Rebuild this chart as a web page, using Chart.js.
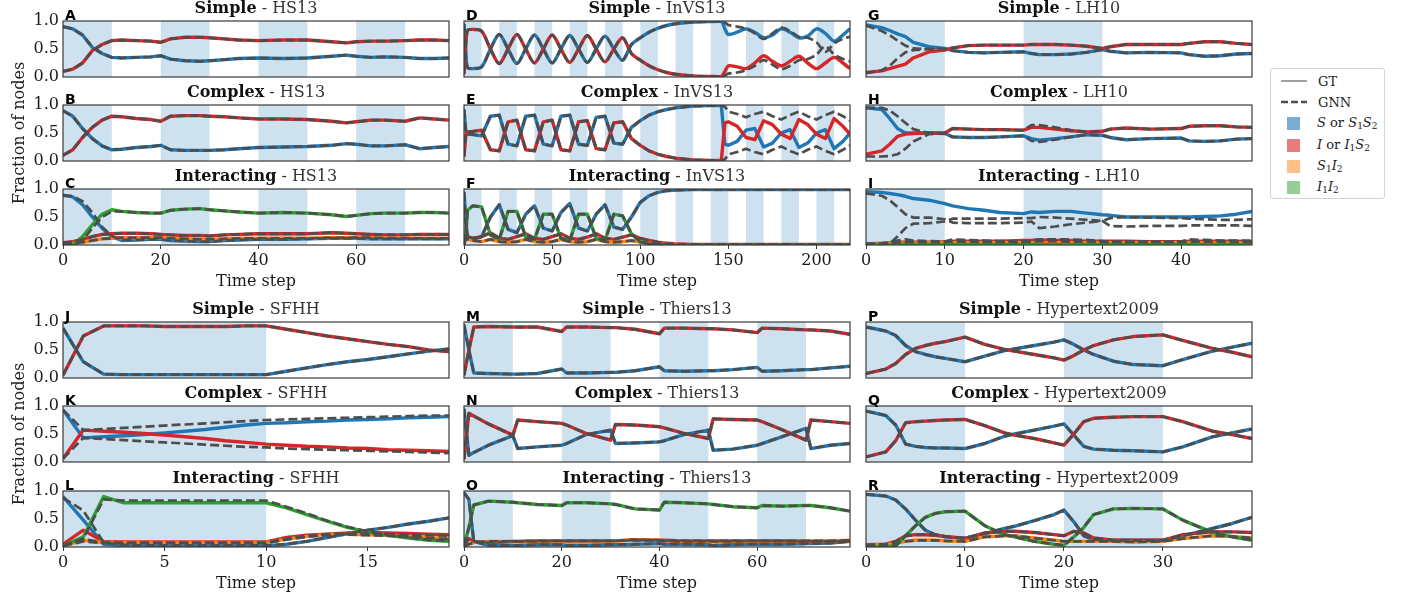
<!DOCTYPE html>
<html>
<head>
<meta charset="utf-8">
<script src="https://cdn.jsdelivr.net/npm/chart.js@4"></script>
<style>
body { margin:0; background:#fff; width:1410px; height:601px; position:relative; overflow:hidden; font-family:"DejaVu Serif", serif; }
canvas.panel { position:absolute; }
#legend { position:absolute; left:1270px; top:68px; width:115px; height:131px; border:1px solid #d4d4d4; border-radius:3px; box-sizing:border-box; background:#fff; font-size:13px; color:#222; }
#legend .item { position:absolute; left:10px; height:20px; display:flex; align-items:center; }
#legend svg { margin-right:11px; }
#legend .patch { display:inline-block; width:13px; height:13px; margin:0 17px 0 6px; }
#legend sub { font-size:9px; vertical-align:-2px; }
</style>
</head>
<body>
<div id="legend">
  <div class="item" style="top:2px"><svg width="26" height="10"><line x1="0" y1="5" x2="26" y2="5" stroke="#a0a0a0" stroke-width="2"/></svg><span>GT</span></div>
  <div class="item" style="top:23px"><svg width="26" height="10"><line x1="0" y1="5" x2="26" y2="5" stroke="#4d4d4d" stroke-width="2.5" stroke-dasharray="7,3"/></svg><span>GNN</span></div>
  <div class="item" style="top:44px"><span class="patch" style="background:rgba(31,119,180,0.6)"></span><span><i>S</i> or <i>S</i><sub>1</sub><i>S</i><sub>2</sub></span></div>
  <div class="item" style="top:66px"><span class="patch" style="background:rgba(214,39,40,0.6)"></span><span><i>I</i> or <i>I</i><sub>1</sub><i>S</i><sub>2</sub></span></div>
  <div class="item" style="top:87px"><span class="patch" style="background:rgba(255,127,14,0.5)"></span><span><i>S</i><sub>1</sub><i>I</i><sub>2</sub></span></div>
  <div class="item" style="top:108px"><span class="patch" style="background:rgba(44,160,44,0.5)"></span><span><i>I</i><sub>1</sub><i>I</i><sub>2</sub></span></div>
</div>
<script>
// ---------- HS13 ----------
const hs13Time = [0,2,4,6,8,10,12,15,18,20,22,25,28,30,33,36,40,45,50,55,58,60,63,66,70,73,76,79];
const hs13Ticks = [0,20,40,60];
const hs13Bands = [[0,10],[20,30],[40,50],[60,70]];
const hs13SimpleS = [0.90,0.86,0.75,0.53,0.42,0.35,0.34,0.35,0.36,0.38,0.32,0.29,0.28,0.29,0.31,0.33,0.34,0.33,0.34,0.37,0.39,0.37,0.35,0.36,0.35,0.33,0.33,0.34];
const hs13SimpleI = [0.10,0.14,0.25,0.47,0.58,0.65,0.66,0.65,0.64,0.62,0.68,0.71,0.71,0.70,0.68,0.66,0.65,0.66,0.66,0.63,0.61,0.63,0.64,0.64,0.65,0.66,0.66,0.65];
const hs13ComplexS = [0.90,0.80,0.58,0.40,0.27,0.20,0.21,0.24,0.26,0.28,0.20,0.19,0.19,0.19,0.20,0.22,0.24,0.25,0.26,0.28,0.31,0.30,0.27,0.27,0.29,0.22,0.24,0.26];
const hs13ComplexI = [0.10,0.20,0.42,0.60,0.73,0.80,0.79,0.76,0.74,0.71,0.80,0.81,0.81,0.80,0.79,0.77,0.75,0.75,0.74,0.71,0.68,0.70,0.73,0.73,0.71,0.77,0.75,0.73];
const hs13IntSS = [0.89,0.86,0.72,0.50,0.30,0.15,0.08,0.09,0.10,0.10,0.08,0.07,0.06,0.06,0.08,0.09,0.10,0.10,0.11,0.12,0.12,0.12,0.11,0.11,0.11,0.11,0.11,0.11];
const hs13IntIS = [0.04,0.06,0.10,0.15,0.19,0.20,0.21,0.21,0.20,0.19,0.18,0.17,0.17,0.16,0.18,0.19,0.20,0.20,0.20,0.22,0.21,0.20,0.19,0.18,0.18,0.19,0.19,0.19];
const hs13IntSI = [0.02,0.03,0.05,0.08,0.11,0.12,0.13,0.13,0.13,0.13,0.12,0.11,0.10,0.10,0.11,0.12,0.12,0.12,0.12,0.13,0.13,0.13,0.13,0.12,0.12,0.12,0.12,0.12];
const hs13IntII = [0.00,0.00,0.15,0.36,0.55,0.63,0.60,0.58,0.57,0.57,0.62,0.64,0.65,0.63,0.61,0.59,0.57,0.58,0.57,0.54,0.51,0.53,0.56,0.57,0.57,0.58,0.58,0.57];
const hs13IntGnnSS = [0.89,0.87,0.78,0.58,0.32,0.16,0.09,0.09,0.10,0.10,0.08,0.07,0.06,0.06,0.08,0.09,0.10,0.10,0.11,0.12,0.12,0.12,0.11,0.11,0.11,0.11,0.11,0.11];
const hs13IntGnnII = [0.00,0.00,0.08,0.30,0.50,0.60,0.60,0.58,0.57,0.57,0.62,0.64,0.65,0.63,0.61,0.59,0.57,0.58,0.57,0.54,0.51,0.53,0.56,0.57,0.57,0.58,0.58,0.57];

// ---------- InVS13 ----------
const invsTime = [0,1,2,5,10,15,20,25,30,35,40,45,50,55,60,65,70,75,80,85,90,95,100,105,110,115,120,130,140,146,148,150,155,160,165,170,175,180,185,190,195,200,205,210,215,219];
const invsTicks = [0,50,100,150,200];
const invsBands = [[0,10],[20,30],[40,50],[60,70],[80,90],[100,110],[120,130],[140,150],[160,170],[180,190],[200,210]];
const invsSimpleS = [0.95,0.45,0.17,0.15,0.18,0.50,0.76,0.50,0.24,0.50,0.75,0.50,0.25,0.50,0.74,0.50,0.26,0.50,0.73,0.50,0.30,0.58,0.70,0.80,0.87,0.92,0.95,0.98,0.99,0.99,0.86,0.76,0.80,0.86,0.80,0.70,0.75,0.86,0.80,0.70,0.73,0.86,0.78,0.64,0.75,0.86];
const invsSimpleI = [0.05,0.55,0.83,0.85,0.82,0.50,0.24,0.50,0.76,0.50,0.25,0.50,0.75,0.50,0.26,0.50,0.74,0.50,0.27,0.50,0.70,0.42,0.30,0.20,0.13,0.08,0.05,0.02,0.01,0.01,0.10,0.20,0.18,0.15,0.25,0.38,0.28,0.20,0.28,0.37,0.25,0.15,0.25,0.35,0.25,0.15];
const invsSimpleGnnS = [0.95,0.45,0.17,0.15,0.18,0.50,0.76,0.50,0.24,0.50,0.75,0.50,0.25,0.50,0.74,0.50,0.26,0.50,0.73,0.50,0.30,0.58,0.70,0.80,0.87,0.92,0.95,0.98,0.99,0.99,0.97,0.93,0.90,0.86,0.78,0.68,0.78,0.88,0.82,0.72,0.70,0.62,0.45,0.60,0.68,0.72];
const invsSimpleGnnI = [0.05,0.55,0.83,0.85,0.82,0.50,0.24,0.50,0.76,0.50,0.25,0.50,0.75,0.50,0.26,0.50,0.74,0.50,0.27,0.50,0.70,0.42,0.30,0.20,0.13,0.08,0.05,0.02,0.01,0.01,0.03,0.06,0.08,0.12,0.20,0.30,0.22,0.14,0.20,0.30,0.32,0.40,0.55,0.40,0.32,0.28];
const invsComplexS = [0.92,0.55,0.48,0.47,0.45,0.80,0.82,0.30,0.27,0.80,0.82,0.30,0.27,0.80,0.82,0.30,0.28,0.78,0.80,0.32,0.30,0.60,0.72,0.82,0.88,0.92,0.95,0.98,0.99,0.99,0.30,0.28,0.35,0.55,0.58,0.25,0.32,0.50,0.56,0.24,0.32,0.50,0.56,0.22,0.35,0.50];
const invsComplexI = [0.08,0.45,0.52,0.53,0.55,0.20,0.18,0.70,0.73,0.20,0.18,0.70,0.73,0.20,0.18,0.70,0.72,0.22,0.20,0.68,0.70,0.40,0.28,0.18,0.12,0.08,0.05,0.02,0.01,0.01,0.68,0.70,0.62,0.42,0.38,0.72,0.65,0.48,0.40,0.74,0.65,0.48,0.40,0.76,0.62,0.48];
const invsComplexGnnS = [0.92,0.55,0.48,0.47,0.45,0.80,0.82,0.30,0.27,0.80,0.82,0.30,0.27,0.80,0.82,0.30,0.28,0.78,0.80,0.32,0.30,0.60,0.72,0.82,0.88,0.92,0.95,0.98,0.99,0.99,0.97,0.88,0.84,0.78,0.84,0.88,0.80,0.74,0.82,0.88,0.80,0.74,0.82,0.88,0.80,0.72];
const invsComplexGnnI = [0.08,0.45,0.52,0.53,0.55,0.20,0.18,0.70,0.73,0.20,0.18,0.70,0.73,0.20,0.18,0.70,0.72,0.22,0.20,0.68,0.70,0.40,0.28,0.18,0.12,0.08,0.05,0.02,0.01,0.01,0.03,0.12,0.16,0.22,0.16,0.12,0.20,0.26,0.18,0.12,0.20,0.26,0.18,0.12,0.20,0.28];
const invsIntSS = [0.95,0.45,0.12,0.10,0.15,0.50,0.72,0.28,0.22,0.55,0.70,0.30,0.25,0.58,0.74,0.30,0.25,0.55,0.72,0.32,0.28,0.50,0.76,0.88,0.94,0.97,0.98,0.99,0.99,0.99,0.99,0.99,0.99,0.99,0.99,0.99,0.99,0.99,0.99,0.99,0.99,0.99,0.99,0.99,0.99,0.99];
const invsIntIS = [0.03,0.20,0.15,0.12,0.15,0.22,0.12,0.10,0.15,0.20,0.12,0.10,0.15,0.20,0.12,0.10,0.14,0.20,0.12,0.10,0.14,0.18,0.12,0.08,0.05,0.03,0.02,0.01,0.01,0.01,0.01,0.01,0.01,0.01,0.01,0.01,0.01,0.01,0.01,0.01,0.01,0.01,0.01,0.01,0.01,0.01];
const invsIntSI = [0.02,0.12,0.10,0.08,0.06,0.10,0.06,0.05,0.06,0.10,0.06,0.05,0.06,0.10,0.06,0.05,0.06,0.10,0.06,0.05,0.06,0.08,0.05,0.03,0.02,0.01,0.01,0.00,0.00,0.00,0.00,0.00,0.00,0.00,0.00,0.00,0.00,0.00,0.00,0.00,0.00,0.00,0.00,0.00,0.00,0.00];
const invsIntII = [0.00,0.15,0.62,0.70,0.68,0.18,0.10,0.60,0.60,0.15,0.10,0.55,0.55,0.12,0.08,0.55,0.55,0.12,0.08,0.55,0.52,0.20,0.06,0.02,0.01,0.00,0.00,0.00,0.00,0.00,0.00,0.00,0.00,0.00,0.00,0.00,0.00,0.00,0.00,0.00,0.00,0.00,0.00,0.00,0.00,0.00];

// ---------- LH10 ----------
const lh10Time = [0,2,3,4,5,6,8,10,11,13,15,17,20,21,22,24,26,28,30,31,33,36,40,41,43,45,47,49];
const lh10Ticks = [0,10,20,30,40];
const lh10Bands = [[0,10],[20,30]];
const lh10SimpleS = [0.93,0.88,0.83,0.77,0.72,0.62,0.54,0.51,0.47,0.44,0.43,0.44,0.45,0.42,0.40,0.40,0.41,0.44,0.49,0.46,0.43,0.44,0.43,0.40,0.37,0.38,0.41,0.42];
const lh10SimpleI = [0.08,0.11,0.15,0.19,0.23,0.34,0.45,0.48,0.52,0.56,0.57,0.57,0.57,0.58,0.58,0.58,0.57,0.55,0.51,0.54,0.58,0.58,0.58,0.60,0.63,0.63,0.60,0.58];
const lh10SimpleGnnS = [0.92,0.82,0.75,0.65,0.56,0.51,0.50,0.50,0.47,0.44,0.43,0.44,0.45,0.42,0.40,0.40,0.41,0.44,0.49,0.46,0.43,0.44,0.43,0.40,0.37,0.38,0.41,0.42];
const lh10SimpleGnnI = [0.07,0.12,0.20,0.33,0.44,0.48,0.50,0.50,0.52,0.56,0.57,0.57,0.57,0.58,0.58,0.58,0.57,0.55,0.51,0.54,0.58,0.58,0.58,0.60,0.63,0.63,0.60,0.58];
const lh10ComplexS = [0.95,0.92,0.76,0.58,0.50,0.50,0.50,0.49,0.43,0.42,0.42,0.43,0.45,0.40,0.37,0.40,0.43,0.47,0.46,0.42,0.38,0.40,0.41,0.36,0.35,0.36,0.39,0.40];
const lh10ComplexI = [0.12,0.18,0.30,0.44,0.48,0.49,0.50,0.50,0.58,0.57,0.56,0.56,0.55,0.60,0.60,0.57,0.54,0.52,0.53,0.57,0.59,0.57,0.58,0.62,0.63,0.63,0.61,0.60];
const lh10ComplexGnnS = [0.95,0.95,0.90,0.80,0.68,0.57,0.50,0.49,0.43,0.42,0.42,0.43,0.45,0.36,0.34,0.38,0.43,0.47,0.46,0.42,0.38,0.40,0.41,0.36,0.35,0.36,0.39,0.40];
const lh10ComplexGnnI = [0.08,0.08,0.09,0.12,0.22,0.35,0.48,0.50,0.58,0.57,0.56,0.56,0.55,0.64,0.64,0.60,0.55,0.52,0.53,0.57,0.59,0.57,0.58,0.62,0.63,0.63,0.61,0.60];
const lh10IntSS = [0.95,0.94,0.92,0.90,0.87,0.83,0.80,0.74,0.70,0.65,0.62,0.58,0.56,0.59,0.58,0.60,0.60,0.57,0.54,0.53,0.50,0.50,0.50,0.50,0.51,0.52,0.55,0.60];
const lh10IntIS = [0.02,0.03,0.04,0.05,0.05,0.05,0.05,0.06,0.07,0.07,0.07,0.07,0.08,0.08,0.09,0.08,0.08,0.07,0.07,0.07,0.07,0.06,0.06,0.07,0.07,0.07,0.07,0.06];
const lh10IntSI = [0.02,0.02,0.03,0.03,0.03,0.03,0.04,0.04,0.04,0.04,0.04,0.04,0.04,0.04,0.04,0.04,0.04,0.04,0.04,0.04,0.04,0.04,0.04,0.04,0.04,0.04,0.04,0.04];
const lh10IntII = [0.01,0.01,0.01,0.01,0.01,0.01,0.01,0.01,0.01,0.01,0.01,0.01,0.01,0.01,0.01,0.01,0.01,0.01,0.01,0.01,0.01,0.01,0.01,0.01,0.01,0.01,0.01,0.01];
const lh10IntGnnSS = [0.92,0.88,0.80,0.68,0.55,0.49,0.49,0.46,0.40,0.39,0.39,0.39,0.40,0.42,0.30,0.33,0.37,0.40,0.43,0.34,0.33,0.34,0.34,0.35,0.35,0.35,0.35,0.34];
const lh10IntGnnIS = [0.02,0.03,0.04,0.08,0.10,0.08,0.07,0.06,0.10,0.09,0.08,0.07,0.06,0.08,0.10,0.10,0.10,0.09,0.07,0.06,0.06,0.06,0.06,0.10,0.09,0.08,0.08,0.08];
const lh10IntGnnSI = [0.02,0.02,0.03,0.04,0.05,0.05,0.05,0.05,0.06,0.06,0.05,0.05,0.05,0.06,0.07,0.07,0.06,0.06,0.05,0.05,0.05,0.05,0.05,0.06,0.06,0.06,0.05,0.05];
const lh10IntGnnII = [0.00,0.00,0.02,0.15,0.30,0.38,0.39,0.42,0.47,0.47,0.47,0.47,0.48,0.48,0.50,0.49,0.47,0.45,0.43,0.48,0.50,0.49,0.48,0.47,0.46,0.45,0.45,0.46];

// ---------- SFHH ----------
const sfhhTime = [0,1,2,3,4,5,6,7,8,9,10,11,12,13,14,15,16,17,18,19];
const sfhhTicks = [0,5,10,15];
const sfhhBands = [[0,10]];
const sfhhSimpleS = [0.89,0.29,0.07,0.06,0.06,0.06,0.06,0.06,0.06,0.06,0.06,0.12,0.18,0.24,0.29,0.33,0.38,0.43,0.48,0.52];
const sfhhSimpleI = [0.05,0.75,0.93,0.93,0.93,0.92,0.92,0.92,0.92,0.93,0.93,0.87,0.81,0.75,0.70,0.65,0.60,0.56,0.50,0.47];
const sfhhComplexS = [0.93,0.43,0.45,0.47,0.49,0.52,0.55,0.58,0.62,0.66,0.69,0.70,0.72,0.73,0.75,0.76,0.77,0.79,0.80,0.81];
const sfhhComplexI = [0.06,0.57,0.55,0.53,0.51,0.48,0.45,0.42,0.38,0.35,0.32,0.30,0.28,0.27,0.25,0.24,0.22,0.21,0.20,0.19];
const sfhhComplexGnnS = [0.93,0.57,0.59,0.61,0.63,0.65,0.67,0.69,0.71,0.73,0.75,0.76,0.77,0.78,0.79,0.80,0.81,0.82,0.83,0.83];
const sfhhComplexGnnI = [0.06,0.43,0.41,0.39,0.37,0.35,0.33,0.31,0.29,0.27,0.26,0.24,0.23,0.22,0.21,0.20,0.19,0.18,0.17,0.16];
const sfhhIntSS = [0.90,0.48,0.05,0.02,0.02,0.02,0.02,0.02,0.02,0.02,0.02,0.05,0.10,0.17,0.24,0.30,0.35,0.41,0.46,0.52];
const sfhhIntIS = [0.05,0.30,0.10,0.09,0.09,0.09,0.09,0.09,0.09,0.09,0.09,0.17,0.21,0.23,0.25,0.26,0.25,0.24,0.23,0.22];
const sfhhIntSI = [0.02,0.12,0.08,0.08,0.08,0.08,0.08,0.08,0.08,0.08,0.08,0.14,0.19,0.22,0.23,0.22,0.21,0.19,0.17,0.15];
const sfhhIntII = [0.02,0.18,0.90,0.79,0.79,0.79,0.79,0.79,0.79,0.79,0.79,0.70,0.58,0.46,0.35,0.27,0.21,0.16,0.12,0.10];
const sfhhIntGnnSS = [0.88,0.65,0.08,0.04,0.03,0.03,0.03,0.03,0.03,0.03,0.03,0.05,0.10,0.17,0.24,0.30,0.35,0.41,0.46,0.52];
const sfhhIntGnnIS = [0.03,0.14,0.08,0.08,0.08,0.08,0.08,0.08,0.08,0.08,0.08,0.15,0.20,0.23,0.24,0.24,0.23,0.22,0.21,0.20];
const sfhhIntGnnSI = [0.02,0.10,0.07,0.07,0.07,0.07,0.07,0.07,0.07,0.07,0.07,0.13,0.18,0.21,0.22,0.21,0.20,0.18,0.16,0.14];
const sfhhIntGnnII = [0.02,0.15,0.85,0.83,0.83,0.83,0.83,0.83,0.83,0.83,0.83,0.72,0.60,0.47,0.36,0.28,0.22,0.17,0.13,0.11];

// ---------- Thiers13 ----------
const thiersTime = [0,1,2,5,10,11,15,20,21,25,30,31,35,40,41,45,50,51,55,60,61,65,70,71,75,79];
const thiersTicks = [0,20,40,60];
const thiersBands = [[0,10],[20,30],[40,50],[60,70]];
const thiersSimpleS = [0.95,0.50,0.09,0.08,0.07,0.07,0.08,0.16,0.09,0.09,0.10,0.10,0.13,0.20,0.13,0.12,0.13,0.13,0.15,0.19,0.12,0.13,0.15,0.15,0.18,0.21];
const thiersSimpleI = [0.05,0.50,0.91,0.92,0.91,0.91,0.91,0.83,0.91,0.91,0.90,0.90,0.87,0.79,0.89,0.89,0.88,0.88,0.86,0.81,0.89,0.88,0.86,0.86,0.84,0.78];
const thiersComplexS = [0.95,0.12,0.17,0.30,0.47,0.24,0.27,0.30,0.33,0.49,0.57,0.33,0.34,0.36,0.38,0.49,0.57,0.21,0.23,0.30,0.33,0.45,0.60,0.24,0.30,0.33];
const thiersComplexI = [0.05,0.87,0.82,0.68,0.48,0.75,0.72,0.69,0.66,0.51,0.39,0.67,0.66,0.63,0.61,0.51,0.42,0.77,0.76,0.75,0.72,0.58,0.39,0.75,0.72,0.69];
const thiersIntSS = [0.97,0.85,0.10,0.03,0.03,0.03,0.04,0.04,0.03,0.03,0.04,0.04,0.05,0.06,0.05,0.05,0.04,0.03,0.04,0.05,0.05,0.05,0.06,0.06,0.07,0.10];
const thiersIntIS = [0.02,0.15,0.10,0.08,0.10,0.10,0.11,0.11,0.11,0.11,0.11,0.11,0.13,0.12,0.12,0.11,0.11,0.11,0.11,0.11,0.11,0.11,0.10,0.10,0.10,0.10];
const thiersIntSI = [0.01,0.05,0.08,0.10,0.10,0.10,0.10,0.11,0.11,0.11,0.11,0.11,0.12,0.12,0.11,0.10,0.10,0.10,0.10,0.11,0.11,0.11,0.11,0.11,0.11,0.12];
const thiersIntII = [0.02,0.35,0.75,0.82,0.80,0.79,0.76,0.74,0.79,0.79,0.77,0.76,0.68,0.66,0.80,0.79,0.77,0.76,0.72,0.70,0.74,0.73,0.74,0.74,0.70,0.64];

// ---------- Hypertext2009 ----------
const htTime = [0,2,3,4,5,6,7,8,10,12,14,15,17,19,20,21,22,23,25,27,30,32,35,37,39];
const htTicks = [0,10,20,30];
const htBands = [[0,10],[20,30]];
const htSimpleS = [0.91,0.84,0.76,0.58,0.47,0.42,0.38,0.35,0.29,0.39,0.49,0.52,0.58,0.64,0.68,0.60,0.50,0.42,0.30,0.24,0.22,0.33,0.48,0.55,0.62];
const htSimpleI = [0.08,0.16,0.26,0.42,0.53,0.58,0.62,0.65,0.73,0.60,0.51,0.48,0.42,0.36,0.32,0.40,0.50,0.58,0.68,0.74,0.77,0.67,0.53,0.46,0.38];
const htComplexS = [0.91,0.83,0.66,0.32,0.28,0.26,0.25,0.25,0.24,0.33,0.46,0.50,0.57,0.64,0.68,0.48,0.28,0.23,0.21,0.20,0.18,0.27,0.45,0.52,0.59];
const htComplexI = [0.09,0.18,0.38,0.70,0.72,0.73,0.74,0.75,0.76,0.65,0.52,0.48,0.42,0.34,0.30,0.50,0.72,0.78,0.80,0.81,0.81,0.72,0.55,0.49,0.42];
const htIntSS = [0.94,0.91,0.84,0.68,0.48,0.30,0.22,0.18,0.16,0.24,0.33,0.37,0.47,0.58,0.66,0.45,0.20,0.13,0.12,0.12,0.12,0.20,0.33,0.42,0.53];
const htIntIS = [0.04,0.05,0.10,0.20,0.22,0.22,0.21,0.19,0.15,0.25,0.28,0.28,0.26,0.22,0.20,0.28,0.25,0.16,0.12,0.12,0.12,0.22,0.27,0.27,0.26];
const htIntSI = [0.03,0.04,0.07,0.10,0.12,0.12,0.12,0.11,0.10,0.18,0.20,0.20,0.16,0.12,0.10,0.10,0.10,0.10,0.10,0.09,0.10,0.15,0.20,0.19,0.16];
const htIntII = [0.01,0.01,0.02,0.20,0.38,0.53,0.60,0.63,0.64,0.38,0.22,0.18,0.10,0.05,0.03,0.18,0.35,0.58,0.68,0.69,0.68,0.48,0.26,0.18,0.12];

const yTicks = [0, 0.5, 1];
const twoColours = ['#1f77b4', '#d62728'];
const fourColours = ['#1f77b4', '#d62728', '#ff7f0e', '#2ca02c'];
const gnnColour = '#4d4d4d';

// layout of the grid
const colLeft = [63, 464, 866];
const rowTop = [21, 105, 189, 322, 406, 491];
const plotW = 386, plotH = 56;
const padL = 60, padR = 12, padT = 80, padB = 60;
const xTitleH = 46;

const panels = [
  {letter:'A', col:0, row:0, kind:'Simple', net:'HS13', time:hs13Time, xMax:79, ticks:hs13Ticks, bands:hs13Bands, gt:[hs13SimpleS, hs13SimpleI], gnn:[hs13SimpleS, hs13SimpleI]},
  {letter:'B', col:0, row:1, kind:'Complex', net:'HS13', time:hs13Time, xMax:79, ticks:hs13Ticks, bands:hs13Bands, gt:[hs13ComplexS, hs13ComplexI], gnn:[hs13ComplexS, hs13ComplexI], yLabel:true},
  {letter:'C', col:0, row:2, kind:'Interacting', net:'HS13', time:hs13Time, xMax:79, ticks:hs13Ticks, bands:hs13Bands, gt:[hs13IntSS, hs13IntIS, hs13IntSI, hs13IntII], gnn:[hs13IntGnnSS, hs13IntIS, hs13IntSI, hs13IntGnnII]},
  {letter:'D', col:1, row:0, kind:'Simple', net:'InVS13', time:invsTime, xMax:219, ticks:invsTicks, bands:invsBands, gt:[invsSimpleS, invsSimpleI], gnn:[invsSimpleGnnS, invsSimpleGnnI], tension:0.3},
  {letter:'E', col:1, row:1, kind:'Complex', net:'InVS13', time:invsTime, xMax:219, ticks:invsTicks, bands:invsBands, gt:[invsComplexS, invsComplexI], gnn:[invsComplexGnnS, invsComplexGnnI]},
  {letter:'F', col:1, row:2, kind:'Interacting', net:'InVS13', time:invsTime, xMax:219, ticks:invsTicks, bands:invsBands, gt:[invsIntSS, invsIntIS, invsIntSI, invsIntII], gnn:[invsIntSS, invsIntIS, invsIntSI, invsIntII]},
  {letter:'G', col:2, row:0, kind:'Simple', net:'LH10', time:lh10Time, xMax:49, ticks:lh10Ticks, bands:lh10Bands, gt:[lh10SimpleS, lh10SimpleI], gnn:[lh10SimpleGnnS, lh10SimpleGnnI]},
  {letter:'H', col:2, row:1, kind:'Complex', net:'LH10', time:lh10Time, xMax:49, ticks:lh10Ticks, bands:lh10Bands, gt:[lh10ComplexS, lh10ComplexI], gnn:[lh10ComplexGnnS, lh10ComplexGnnI]},
  {letter:'I', col:2, row:2, kind:'Interacting', net:'LH10', time:lh10Time, xMax:49, ticks:lh10Ticks, bands:lh10Bands, gt:[lh10IntSS, lh10IntIS, lh10IntSI, lh10IntII], gnn:[lh10IntGnnSS, lh10IntGnnIS, lh10IntGnnSI, lh10IntGnnII]},
  {letter:'J', col:0, row:3, kind:'Simple', net:'SFHH', time:sfhhTime, xMax:19, ticks:sfhhTicks, bands:sfhhBands, gt:[sfhhSimpleS, sfhhSimpleI], gnn:[sfhhSimpleS, sfhhSimpleI]},
  {letter:'K', col:0, row:4, kind:'Complex', net:'SFHH', time:sfhhTime, xMax:19, ticks:sfhhTicks, bands:sfhhBands, gt:[sfhhComplexS, sfhhComplexI], gnn:[sfhhComplexGnnS, sfhhComplexGnnI], yLabel:true},
  {letter:'L', col:0, row:5, kind:'Interacting', net:'SFHH', time:sfhhTime, xMax:19, ticks:sfhhTicks, bands:sfhhBands, gt:[sfhhIntSS, sfhhIntIS, sfhhIntSI, sfhhIntII], gnn:[sfhhIntGnnSS, sfhhIntGnnIS, sfhhIntGnnSI, sfhhIntGnnII]},
  {letter:'M', col:1, row:3, kind:'Simple', net:'Thiers13', time:thiersTime, xMax:79, ticks:thiersTicks, bands:thiersBands, gt:[thiersSimpleS, thiersSimpleI], gnn:[thiersSimpleS, thiersSimpleI]},
  {letter:'N', col:1, row:4, kind:'Complex', net:'Thiers13', time:thiersTime, xMax:79, ticks:thiersTicks, bands:thiersBands, gt:[thiersComplexS, thiersComplexI], gnn:[thiersComplexS, thiersComplexI]},
  {letter:'O', col:1, row:5, kind:'Interacting', net:'Thiers13', time:thiersTime, xMax:79, ticks:thiersTicks, bands:thiersBands, gt:[thiersIntSS, thiersIntIS, thiersIntSI, thiersIntII], gnn:[thiersIntSS, thiersIntIS, thiersIntSI, thiersIntII]},
  {letter:'P', col:2, row:3, kind:'Simple', net:'Hypertext2009', time:htTime, xMax:39, ticks:htTicks, bands:htBands, gt:[htSimpleS, htSimpleI], gnn:[htSimpleS, htSimpleI]},
  {letter:'Q', col:2, row:4, kind:'Complex', net:'Hypertext2009', time:htTime, xMax:39, ticks:htTicks, bands:htBands, gt:[htComplexS, htComplexI], gnn:[htComplexS, htComplexI]},
  {letter:'R', col:2, row:5, kind:'Interacting', net:'Hypertext2009', time:htTime, xMax:39, ticks:htTicks, bands:htBands, gt:[htIntSS, htIntIS, htIntSI, htIntII], gnn:[htIntSS, htIntIS, htIntSI, htIntII]}
];

function pairs(ts, vs) {
	return ts.map((t, i) => ({x: t, y: vs[i]}));
}

// shaded periods, title, panel letter, frame and y label
function decor(p) {
	return {
		id: 'decor' + p.letter,
		beforeDatasetsDraw(chart) {
			const {ctx, chartArea, scales} = chart;
			ctx.save();
			ctx.beginPath();
			ctx.rect(chartArea.left, chartArea.top, chartArea.width, chartArea.height);
			ctx.clip();
			ctx.fillStyle = 'rgba(31,119,180,0.22)';
			p.bands.forEach(b => {
				const x0 = scales.x.getPixelForValue(b[0]);
				const x1 = scales.x.getPixelForValue(b[1]);
				ctx.fillRect(x0, chartArea.top, x1 - x0, chartArea.height);
			});
			ctx.restore();
		},
		afterDraw(chart) {
			const {ctx, chartArea} = chart;
			ctx.save();
			ctx.strokeStyle = '#3a3a3a';
			ctx.lineWidth = 1.2;
			ctx.strokeRect(chartArea.left, chartArea.top, chartArea.width, chartArea.height);
			// title: bold kind + plain network name
			ctx.textBaseline = 'alphabetic';
			ctx.textAlign = 'left';
			ctx.font = 'bold 16px "DejaVu Serif"';
			const w1 = ctx.measureText(p.kind).width;
			const rest = ' - ' + p.net;
			ctx.font = '16px "DejaVu Serif"';
			const w2 = ctx.measureText(rest).width;
			const x = (chartArea.left + chartArea.right) / 2 - (w1 + w2) / 2;
			const y = chartArea.top - 8;
			ctx.fillStyle = '#111';
			ctx.font = 'bold 16px "DejaVu Serif"';
			ctx.fillText(p.kind, x, y);
			ctx.font = '16px "DejaVu Serif"';
			ctx.fillStyle = '#333';
			ctx.fillText(rest, x + w1, y);
			// panel letter
			ctx.fillStyle = '#000';
			ctx.font = 'bold 14px "DejaVu Sans"';
			ctx.fillText(p.letter, chartArea.left + 2, chartArea.top - 1);
			if (p.yLabel) {
				ctx.translate(chartArea.left - 43, (chartArea.top + chartArea.bottom) / 2);
				ctx.rotate(-Math.PI / 2);
				ctx.textAlign = 'center';
				ctx.textBaseline = 'middle';
				ctx.font = '16px "DejaVu Serif"';
				ctx.fillStyle = '#222';
				ctx.fillText('Fraction of nodes', 0, 0);
			}
			ctx.restore();
		}
	};
}

function buildPanel(p)
{
	const bottomRow = (p.row == 2 || p.row == 5);
	const canvas = document.createElement('canvas');
	canvas.className = 'panel';
	const w = plotW + padL + padR, h = plotH + padT + padB;
	canvas.width = w;
	canvas.height = h;
	canvas.style.left = (colLeft[p.col] - padL) + 'px';
	canvas.style.top = (rowTop[p.row] - padT) + 'px';
	document.body.appendChild(canvas);

	const colours = p.gt.length == 2 ? twoColours : fourColours;
	const tension = p.tension || 0;
	var datasets = [];
	p.gnn.forEach(vals => {
		datasets.push({data: pairs(p.time, vals), borderColor: gnnColour, borderWidth: 2.7, borderDash: [9, 4], order: 0, clip: 0, tension: tension});
	});
	p.gt.forEach((vals, i) => {
		datasets.push({data: pairs(p.time, vals), borderColor: colours[i], borderWidth: 3.4, order: 1 + (p.gt.length - i), clip: 0, tension: tension});
	});

	const font = {family: '"DejaVu Serif"', size: 16};
	new Chart(canvas.getContext('2d'), {
		type: 'line',
		data: {datasets: datasets},
		options: {
			responsive: false,
			animation: false,
			devicePixelRatio: 1,
			events: [],
			layout: {padding: {left: 0, right: padR, top: padT, bottom: bottomRow ? padB - xTitleH : padB}},
			elements: {point: {radius: 0}, line: {borderJoinStyle: 'round'}},
			plugins: {legend: {display: false}, tooltip: {enabled: false}},
			scales: {
				x: {
					type: 'linear', min: 0, max: p.xMax,
					afterBuildTicks: s => { s.ticks = p.ticks.map(v => ({value: v})); },
					afterFit: s => { s.height = bottomRow ? xTitleH : 0; },
					ticks: {display: bottomRow, font: font, color: '#1a1a1a', padding: 2, maxRotation: 0, autoSkip: false, callback: v => String(v)},
					grid: {display: bottomRow, drawOnChartArea: false, tickLength: 4, color: '#3a3a3a'},
					border: {display: false},
					title: {display: bottomRow, text: 'Time step', font: font, color: '#1a1a1a', padding: {top: 0, bottom: 0}}
				},
				y: {
					type: 'linear', position: 'left', min: 0, max: 1,
					afterBuildTicks: s => { s.ticks = yTicks.map(v => ({value: v})); },
					afterFit: s => { s.width = padL; },
					ticks: {display: p.col == 0, font: font, color: '#1a1a1a', padding: 4, autoSkip: false, callback: v => Number(v).toFixed(1)},
					grid: {display: false, drawTicks: false},
					border: {display: false}
				}
			}
		},
		plugins: [decor(p)]
	});
}

panels.forEach(buildPanel);
</script>
</body>
</html>
